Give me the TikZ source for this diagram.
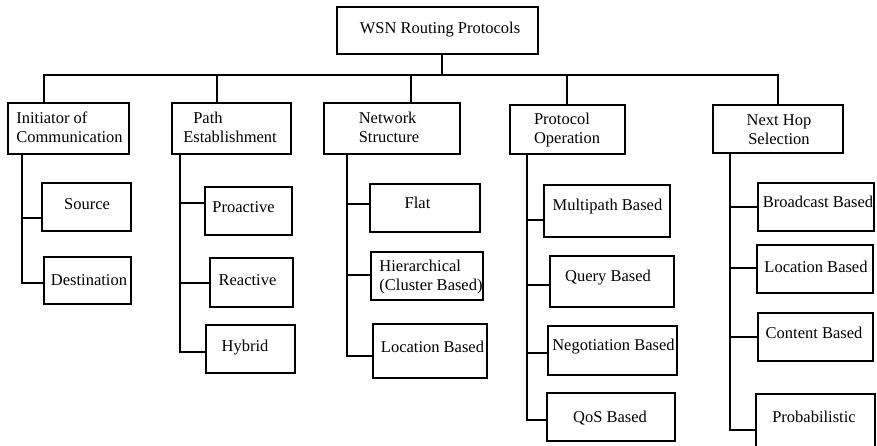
\documentclass[tikz,border=0pt]{standalone}
\usepackage{fontspec}
\setmainfont{Liberation Serif}
\usetikzlibrary{calc}
\tikzset{
  boxnode/.style={draw=black, line width=2pt, rectangle, inner sep=0pt, outer sep=0pt},
  txt/.style={inner sep=0pt, font=\fontsize{16.5}{19.5}\selectfont},
  txtl/.style={txt, align=left},
  txtc/.style={txt, align=center},
  link/.style={draw=black, line width=2pt},
}
\newcommand\mkbox[6]{\node[boxnode, minimum width=#4pt, minimum height=#5pt] (#1) at (#2,#3) {};}
\newcommand\brnch[3]{\draw[link] ($(#1.west)+(0,#3)$) -- ($(#2 |- #1.west)+(0,#3)$);}
\begin{document}
\begin{tikzpicture}[x=1pt, y=-1pt]
\useasboundingbox (0,0) rectangle (877,445);

% ---- texts (drawn first so box borders lie on top) ----
\node[txt] (troot) at (440,30) {WSN Routing Protocols};
\node[txtl] (tini) at (69.5,127.5) {Initiator of\\Communication};
\node[txtl] (tpth) at (230,127.5) {\hspace*{10pt}Path\\Establishment};
\node[txtl] (tnet) at (389,127.5) {Network\\Structure};
\node[txtl] (tpro) at (567,130) {Protocol\\Operation};
\node[txtc] (tnh) at (779,129.5) {Next Hop\\Selection};

\node[txt] (tsrc) at (87,204) {Source};
\node[txt] (tdst) at (89,280) {Destination};
\node[txt] (tpra) at (243.5,207) {Proactive};
\node[txt] (trea) at (247.5,280) {Reactive};
\node[txt] (thyb) at (245,348) {Hybrid};
\node[txt] (tflat) at (417.5,203) {Flat};
\node[txtl] (thier) at (431,277) {Hierarchical\\(Cluster Based)};
\node[txt] (tlocn) at (432.5,347) {Location Based};
\node[txt] (tmult) at (607.5,207) {Multipath Based};
\node[txt] (tquery) at (608,278) {Query Based};
\node[txt] (tneg) at (613.5,347) {Negotiation Based};
\node[txt] (tqos) at (610,418) {QoS Based};
\node[txt] (tbc) at (818,202) {Broadcast Based};
\node[txt] (tloch) at (816,267) {Location Based};
\node[txt] (tcont) at (814,333) {Content Based};
\node[txt] (tprob) at (814,417) {Probabilistic};

% ---- boxes ----
\mkbox{root}{437.5}{30.5}{201}{47}{}
\mkbox{ini}{68.5}{128.5}{121}{51}{}
\mkbox{pth}{231.5}{128.5}{119}{51}{}
\mkbox{net}{392}{128.5}{136}{51}{}
\mkbox{pro}{567.5}{129.5}{115}{49}{}
\mkbox{nh}{778}{129}{130}{48}{}

\mkbox{src}{86.5}{207}{89}{48}{}
\mkbox{dst}{87.5}{280.5}{87}{47}{}
\mkbox{pra}{248.5}{211}{87}{48}{}
\mkbox{rea}{251.5}{282.5}{83}{49}{}
\mkbox{hyb}{250.5}{349}{89}{48}{}
\mkbox{flat}{425}{208}{110}{48}{}
\mkbox{hier}{427}{276}{112}{48}{}
\mkbox{locn}{430}{351}{114}{54}{}
\mkbox{mult}{607}{211}{126}{52}{}
\mkbox{query}{612}{281.5}{124}{51}{}
\mkbox{neg}{612.5}{350.5}{129}{49}{}
\mkbox{qos}{611}{417}{128}{48}{}
\mkbox{bc}{816}{207}{116}{48}{}
\mkbox{loch}{815}{269}{116}{48}{}
\mkbox{cont}{815.5}{337}{115}{48}{}
\mkbox{prob}{815.5}{421}{119}{54}{}

% ---- top level connectors ----
\coordinate (stem) at (442,75);
\coordinate (d1) at (44,75);
\coordinate (d2) at (217,75);
\coordinate (d3) at (411,75);
\coordinate (d4) at (567,75);
\coordinate (d5) at (778,75);
\draw[link] (stem |- root.south) -- (stem);
\draw[link] (d1 |- ini.north) -- (d1) -- (d5) -- (d5 |- nh.north);
\draw[link] (d2) -- (d2 |- pth.north);
\draw[link] (d3) -- (d3 |- net.north);
\draw[link] (d4) -- (d4 |- pro.north);

% ---- spines ----
\coordinate (sp1) at (22,0);
\coordinate (sp2) at (180,0);
\coordinate (sp3) at (347,0);
\coordinate (sp4) at (527,0);
\coordinate (sp5) at (730,0);

\draw[link] (sp1 |- ini.south) |- ($(dst.west)+(0,2.5)$);
\brnch{src}{sp1}{11}

\draw[link] (sp2 |- pth.south) |- ($(hyb.west)+(0,3)$);
\brnch{pra}{sp2}{-8}
\brnch{rea}{sp2}{0}

\draw[link] (sp3 |- net.south) |- ($(locn.west)+(0,5)$);
\brnch{flat}{sp3}{-4}
\brnch{hier}{sp3}{-1}

\draw[link] (sp4 |- pro.south) |- ($(qos.west)+(0,3)$);
\brnch{mult}{sp4}{9}
\brnch{query}{sp4}{3.5}
\brnch{neg}{sp4}{2.5}

\draw[link] (sp5 |- nh.south) |- ($(prob.west)+(0,9)$);
\brnch{bc}{sp5}{0}
\brnch{loch}{sp5}{-1}
\brnch{cont}{sp5}{0}
\end{tikzpicture}
\end{document}
